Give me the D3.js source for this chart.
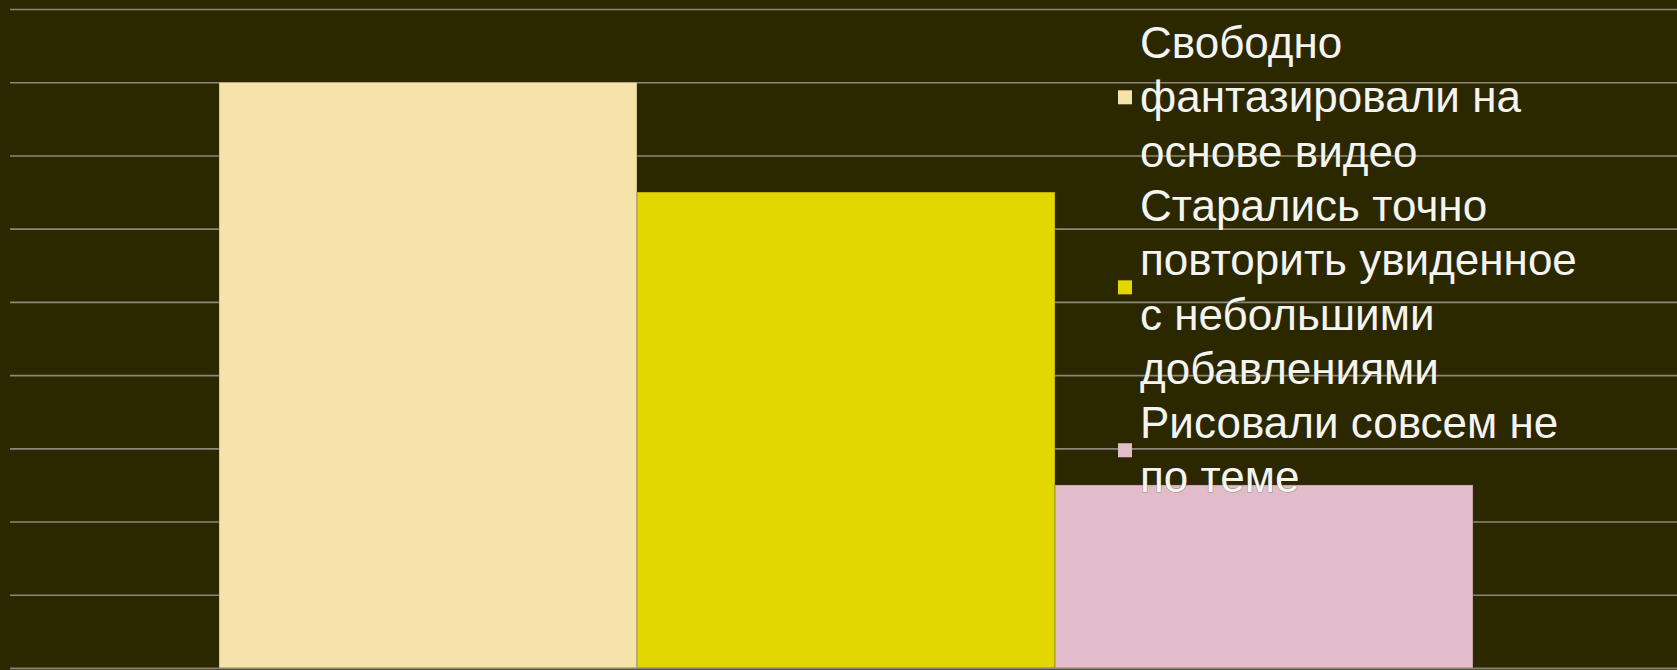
<!DOCTYPE html>
<html>
<head>
<meta charset="utf-8">
<script src="https://cdn.jsdelivr.net/npm/d3@7"></script>
<style>
  html, body { margin: 0; padding: 0; background: #2b2800; }
  svg { display: block; }
</style>
</head>
<body>
<svg id="chart" width="1677" height="670"></svg>
<script>
// ---- data ----
const categories = ["Рисунки"];
const seriesNames = [
  "Свободно фантазировали на основе видео",
  "Старались точно повторить увиденное с небольшими добавлениями",
  "Рисовали совсем не по теме"
];
const seriesValues = [16, 13, 5];
const legendLines = [
  ["Свободно", "фантазировали на", "основе видео"],
  ["Старались точно", "повторить увиденное", "с небольшими", "добавлениями"],
  ["Рисовали совсем не", "по теме"]
];
const seriesColors = ["#f5e3a9", "#e3d700", "#e2bccb"];
const yTicks = [0, 2, 4, 6, 8, 10, 12, 14, 16, 18];

// ---- layout ----
const W = 1677, H = 670;
const plot = { left: 10, right: 1682, top: 9, bottom: 668 };
const svg = d3.select("#chart");

svg.append("rect").attr("width", W).attr("height", H).attr("fill", "#2b2800");

const x0 = d3.scaleBand().domain(categories).range([plot.left, plot.right])
  .paddingInner(0.25).paddingOuter(0.125);
const x1 = d3.scaleBand().domain(d3.range(seriesValues.length))
  .range([0, x0.bandwidth()]).padding(0);
const y = d3.scaleLinear().domain([0, 18]).range([plot.bottom, plot.top]);

// gridlines
const grid = d3.axisLeft(y).tickValues(yTicks).tickSize(-(plot.right - plot.left)).tickFormat("");
const gg = svg.append("g").attr("transform", `translate(${plot.left},0)`).call(grid);
gg.select(".domain").remove();
gg.selectAll(".tick line").attr("stroke", "#8a8878").attr("stroke-width", 1.6);

// bars
const barG = svg.append("g").attr("transform", `translate(${x0(categories[0])},0)`);
barG.selectAll("rect").data(seriesValues).join("rect")
  .attr("x", (d, i) => x1(i))
  .attr("y", d => y(d))
  .attr("width", x1.bandwidth())
  .attr("height", d => y(0) - y(d))
  .attr("fill", (d, i) => seriesColors[i])
  .attr("stroke", "rgba(60,55,20,0.35)")
  .attr("stroke-width", 1);

// baseline axis
const xAxis = d3.axisBottom(x0).tickSize(0).tickFormat("");
const xa = svg.append("g").attr("transform", `translate(0,${plot.bottom})`).call(xAxis);
xa.select(".domain").attr("stroke", "#8a8878").attr("stroke-width", 1.6);

// legend
const lineH = 54.3;
const firstBase = 58;
const textX = 1140;
const fontSize = 44;
const leg = svg.append("g").attr("font-family", "'Liberation Sans', Arial, sans-serif")
  .attr("font-size", fontSize).attr("fill", "#f4f4f0");
let lineIdx = 0;
legendLines.forEach((lines, i) => {
  const bases = lines.map((_, k) => firstBase + (lineIdx + k) * lineH);
  const mid = d3.mean(bases) - 15;
  leg.append("rect")
    .attr("x", 1118).attr("y", mid - 7).attr("width", 14).attr("height", 14)
    .attr("fill", seriesColors[i]);
  lines.forEach((t, k) => {
    leg.append("text").attr("x", textX).attr("y", bases[k]).text(t)
      .style("paint-order", "stroke").attr("stroke", "rgba(40,35,0,0.35)").attr("stroke-width", 1.2);
  });
  lineIdx += lines.length;
});
</script>
</body>
</html>
